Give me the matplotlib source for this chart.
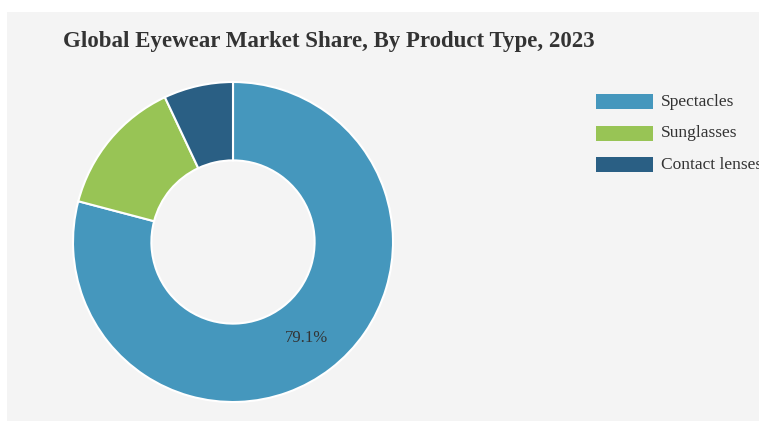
import matplotlib.pyplot as plt
from matplotlib.patches import Rectangle

# market share by product type, 2023 (%)
products = ["Spectacles", "Sunglasses", "Contact lenses"]
shares = [79.1, 13.9, 7.0]
colors = ["#4597bd", "#98c455", "#2a5f84"]

W, H = 759, 421
fig = plt.figure(figsize=(W / 100, H / 100), dpi=100)
fig.patch.set_facecolor("white")
plt.rcParams["font.family"] = ["Liberation Serif", "DejaVu Serif"]

# grey panel behind the chart
fig.patches.append(Rectangle((7 / W, 0), 1 - 7 / W, (H - 12) / H,
                             transform=fig.transFigure, facecolor="#f4f4f4",
                             edgecolor="none", zorder=-1))

fig.text(63 / W, 1 - 42 / H, "Global Eyewear Market Share, By Product Type, 2023",
         fontsize=16.5, fontweight="bold", color="#333333", va="center", ha="left")

# donut, radius 160 px centred at (233, 242)
cx, cy, r = 233, 242, 160
box = 340
ax = fig.add_axes([(cx - box / 2) / W, (H - cy - box / 2) / H, box / W, box / H])
ax.set_zorder(1)

wedges, texts, autotexts = ax.pie(
    shares, colors=colors, startangle=90, counterclock=False, radius=1,
    wedgeprops=dict(width=0.49, edgecolor="white", linewidth=1.5),
    autopct=lambda p: f"{p:.1f}%" if p > 20 else "", pctdistance=0.755,
    textprops=dict(fontsize=12, color="#333333"))

# pie() resets the limits, so set them afterwards
ax.set_xlim(-box / 2 / r, box / 2 / r)
ax.set_ylim(-box / 2 / r, box / 2 / r)
ax.set_aspect("equal")
ax.axis("off")

# legend on the right
for i, (name, col) in enumerate(zip(products, colors)):
    top = 94 + i * 31.5
    fig.patches.append(Rectangle((596 / W, 1 - (top + 15) / H), 57 / W, 15 / H,
                                 transform=fig.transFigure, facecolor=col,
                                 edgecolor="none", zorder=1))
    fig.text(661 / W, 1 - (top + 7.5) / H, name, fontsize=12.5,
             color="#333333", va="center", ha="left")

fig.savefig("out.png", dpi=100)
